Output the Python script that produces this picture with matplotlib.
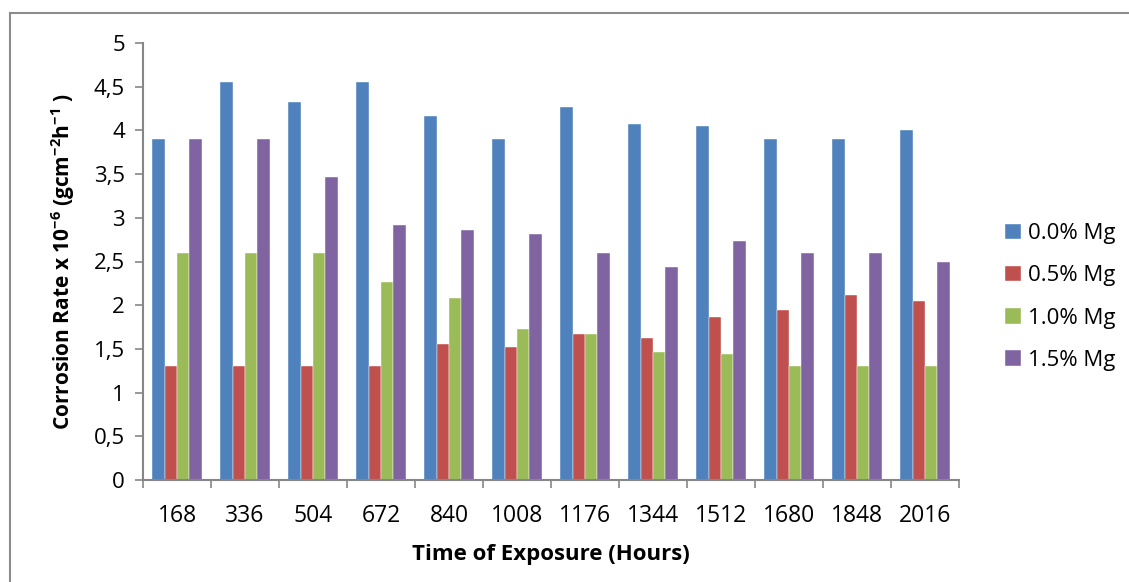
import matplotlib
matplotlib.use("Agg")
import matplotlib.pyplot as plt
import numpy as np
from matplotlib.lines import Line2D

plt.rcParams['font.family'] = ['Open Sans', 'DejaVu Sans']
plt.rcParams['mathtext.fontset'] = 'custom'
plt.rcParams['mathtext.rm'] = 'Open Sans'
plt.rcParams['mathtext.bf'] = 'Open Sans:bold'

hours = ["168", "336", "504", "672", "840", "1008", "1176", "1344", "1512", "1680", "1848", "2016"]
series_names = ["0.0% Mg", "0.5% Mg", "1.0% Mg", "1.5% Mg"]
mg_00 = [3.90, 4.55, 4.33, 4.55, 4.16, 3.90, 4.27, 4.07, 4.05, 3.90, 3.90, 4.01]
mg_05 = [1.30, 1.30, 1.30, 1.30, 1.56, 1.52, 1.67, 1.62, 1.87, 1.95, 2.12, 2.05]
mg_10 = [2.60, 2.60, 2.60, 2.27, 2.08, 1.73, 1.67, 1.46, 1.44, 1.30, 1.30, 1.30]
mg_15 = [3.90, 3.90, 3.47, 2.92, 2.86, 2.82, 2.60, 2.44, 2.74, 2.60, 2.60, 2.49]
colors = ["#4F81BD", "#C0504D", "#9BBB59", "#8064A2"]
y_ticks = [0, 0.5, 1, 1.5, 2, 2.5, 3, 3.5, 4, 4.5, 5]
y_tick_labels = ["0", "0,5", "1", "1,5", "2", "2,5", "3", "3,5", "4", "4,5", "5"]

W, H = 1129, 582
fig = plt.figure(figsize=(W / 100, H / 100), dpi=100)
ax = fig.add_axes([143 / W, 1 - 480 / H, (959 - 143) / W, (480 - 43) / H])

x = np.arange(len(hours))
bw = 0.181
data = [mg_00, mg_05, mg_10, mg_15]
for i, (vals, c, name) in enumerate(zip(data, colors, series_names)):
    ax.bar(x + (i - 1.5) * bw, vals, width=bw, color=c, label=name,
           edgecolor='white', linewidth=0.3)

ax.set_xlim(-0.5, len(hours) - 0.5)
ax.set_ylim(0, 5)
ax.set_yticks(y_ticks)
ax.set_yticklabels(y_tick_labels)
ax.set_xticks(x)
ax.set_xticklabels(hours)
ax.set_xticks(np.arange(len(hours) + 1) - 0.5, minor=True)
ax.tick_params(axis='x', which='major', length=0, labelsize=16.5, pad=17)
ax.tick_params(axis='x', which='minor', length=6, width=1.2, color='#868686', direction='out')
ax.tick_params(axis='y', which='major', length=6, width=1.2, color='#868686', labelsize=16, pad=7)
for s in ['top', 'right']:
    ax.spines[s].set_visible(False)
for s in ['left', 'bottom']:
    ax.spines[s].set_color('#868686')
    ax.spines[s].set_linewidth(1.5)

ax.set_xlabel("Time of Exposure (Hours)", fontsize=16, fontweight='bold', labelpad=12)
ax.set_ylabel(r"Corrosion Rate x 10$^{\mathbf{-6}}$ (gcm$^{\mathbf{-2}}$h$^{\mathbf{-1}}$ )",
              fontsize=15, fontweight='bold', labelpad=12)

leg = fig.legend(loc='center left', bbox_to_anchor=(985 / W, 1 - 297 / H), frameon=False,
                 fontsize=16, handlelength=0.7, handleheight=0.7, labelspacing=0.95,
                 handletextpad=0.35)

# outer chart border (left and top edges visible)
fig.add_artist(Line2D([9.5 / W, 9.5 / W], [0, 1 - 13 / H], transform=fig.transFigure,
                      color='#8c8c8c', linewidth=1.5))
fig.add_artist(Line2D([9.5 / W, 1], [1 - 13 / H, 1 - 13 / H], transform=fig.transFigure,
                      color='#8c8c8c', linewidth=1.5))

fig.savefig("out.png", dpi=100)
